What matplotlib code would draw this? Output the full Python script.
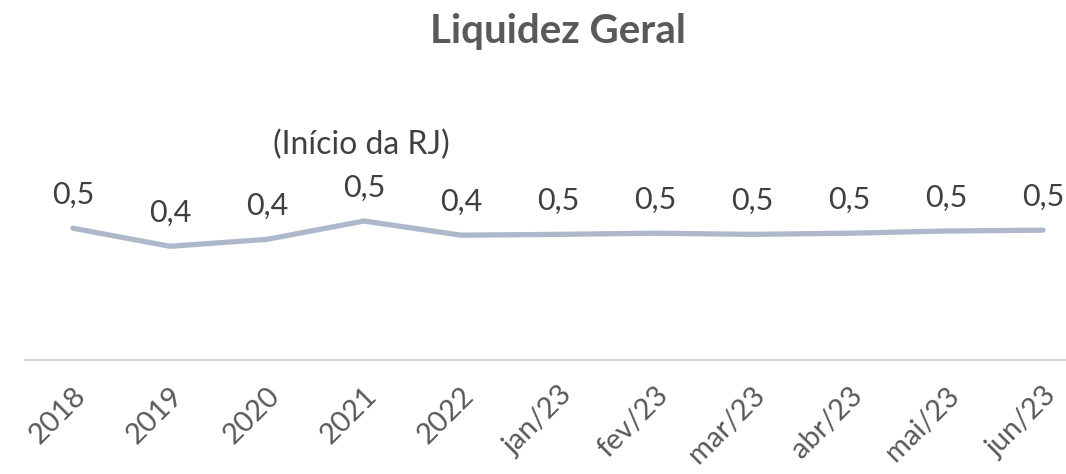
import matplotlib
matplotlib.use("Agg")
import matplotlib.pyplot as plt

categories = ["2018", "2019", "2020", "2021", "2022", "jan/23", "fev/23",
              "mar/23", "abr/23", "mai/23", "jun/23"]
values = [0.474, 0.409, 0.434, 0.500, 0.449, 0.452, 0.456, 0.452, 0.456, 0.464, 0.467]
labels = ["0,5", "0,4", "0,4", "0,5", "0,4", "0,5", "0,5", "0,5", "0,5", "0,5", "0,5"]
title = "Liquidez Geral"
note = "(Início da RJ)"
note_index = 3

plt.rcParams['font.family'] = ['Lato', 'DejaVu Sans']

W, H = 1066, 474
fig = plt.figure(figsize=(W / 100, H / 100), dpi=100)
left_px, right_px = 24.5, 1091.5
bottom_px, top_px = 360, 82
ax = fig.add_axes([left_px / W, 1 - bottom_px / H, (right_px - left_px) / W,
                   (bottom_px - top_px) / H])
x = list(range(len(categories)))
ax.plot(x, values, color="#ADB9CA", lw=3.8, solid_capstyle="round",
        solid_joinstyle="round", clip_on=False)
ax.set_xlim(-0.5, len(categories) - 0.5)
ax.set_ylim(0, 1.0)

for i, (v, lab) in enumerate(zip(values, labels)):
    ax.annotate(lab, (i, v), xytext=(0, 14), textcoords="offset points",
                ha="center", va="bottom", fontsize=22, color="#404040")

ax.annotate(note, (note_index, values[note_index]), xytext=(-2, 44),
            textcoords="offset points", ha="center", va="bottom",
            fontsize=23, color="#404040")

for s in ["top", "right", "left"]:
    ax.spines[s].set_visible(False)
ax.spines["bottom"].set_color("#D9D9D9")
ax.spines["bottom"].set_linewidth(1.5)
ax.set_yticks([])
ax.set_xticks(x)
ax.set_xticklabels(categories, rotation=45, ha="right", rotation_mode="anchor",
                   fontsize=21, color="#595959")
ax.tick_params(axis="x", length=0, pad=16)

fig.text(558 / W, 1 - 31 / H, title, ha="center", va="center", fontsize=29,
         fontweight="bold", color="#595959")

fig.savefig("out.png", dpi=100)
